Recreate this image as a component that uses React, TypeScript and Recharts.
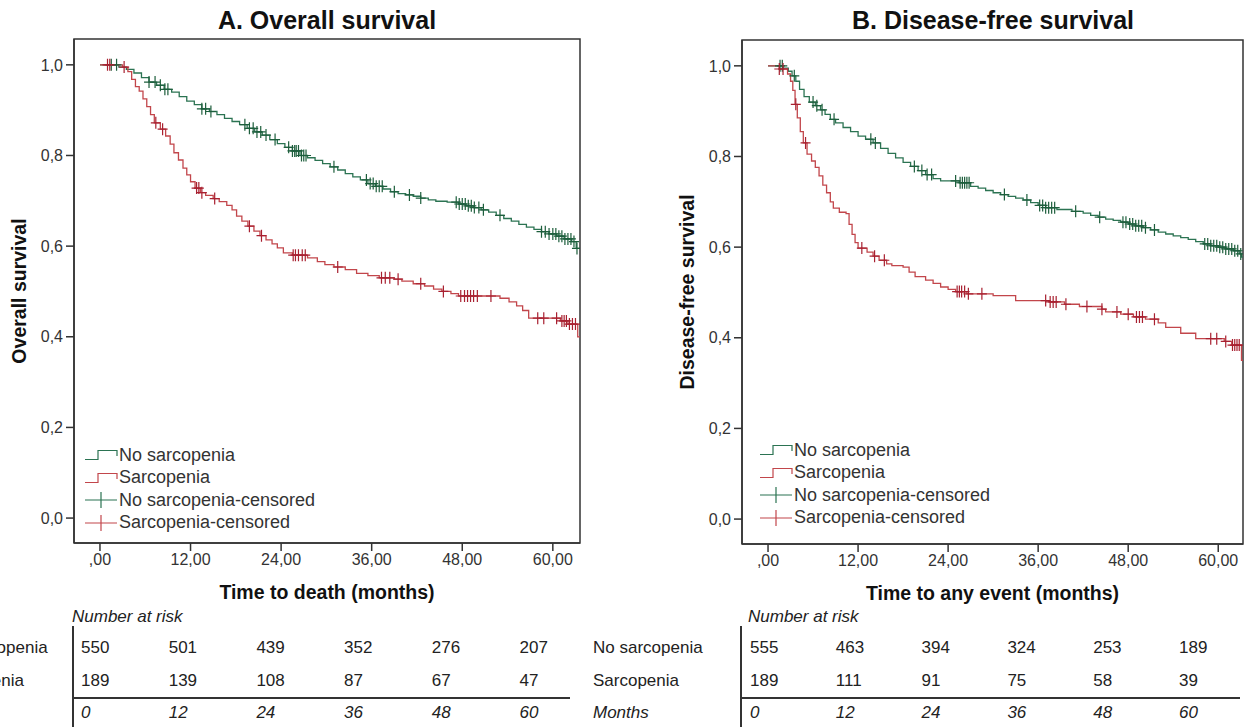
import {
  ComposedChart,
  Legend,
  Line,
  ReferenceArea,
  Scatter,
  XAxis,
  YAxis,
} from "recharts";

type Pt = [number, number];

const monthTicks = [0, 12, 24, 36, 48, 60];
const survivalTicks = [0, 0.2, 0.4, 0.6, 0.8, 1];
const groupLabels = ["No sarcopenia", "Sarcopenia"];

// A. Overall survival, KM steps as [month, survival]
const osNoSarcopenia: Pt[] = [
  [0, 1], [2.5, 0.995], [3.5, 0.99], [4.5, 0.982], [5.5, 0.972], [6.5, 0.962],
  [7.5, 0.955], [8.5, 0.946], [9.5, 0.94], [10.5, 0.93], [11.5, 0.92],
  [12.5, 0.912], [13.5, 0.903], [14.5, 0.897], [15.5, 0.89], [16.5, 0.882],
  [17.5, 0.875], [18.5, 0.868], [19.5, 0.86], [20.5, 0.852], [21.5, 0.845],
  [22.5, 0.835], [23.5, 0.826], [24.5, 0.818], [25.5, 0.81], [26.5, 0.8],
  [27.5, 0.795], [28.5, 0.789], [29.5, 0.782], [30.5, 0.775], [31.5, 0.768],
  [32.5, 0.76], [33.5, 0.753], [34.5, 0.746], [35.5, 0.738], [36.5, 0.732],
  [37.5, 0.726], [38.5, 0.72], [39.5, 0.716], [40.5, 0.713], [41.5, 0.71],
  [42.5, 0.706], [43.5, 0.702], [44.5, 0.699], [46, 0.697], [47.5, 0.693],
  [48.5, 0.689], [49.5, 0.685], [50.5, 0.68], [51.5, 0.675], [52.5, 0.668],
  [53.5, 0.661], [54.5, 0.655], [55.5, 0.648], [56.5, 0.642], [57.5, 0.637],
  [58.5, 0.632], [59.5, 0.627], [60.5, 0.622], [61.5, 0.616], [62.5, 0.61],
  [63.1, 0.595], [63.6, 0.595],
];
const osSarcopenia: Pt[] = [
  [0, 1], [3, 0.995], [3.7, 0.985], [4.2, 0.968], [4.7, 0.952], [5.2, 0.942],
  [5.7, 0.925], [6.2, 0.908], [6.7, 0.89], [7.2, 0.872], [8, 0.858],
  [8.7, 0.843], [9.3, 0.825], [9.8, 0.806], [10.4, 0.79], [11, 0.772],
  [11.5, 0.757], [12, 0.742], [12.6, 0.728], [13.3, 0.718], [14, 0.712],
  [15, 0.705], [15.8, 0.698], [16.8, 0.69], [17.5, 0.68], [18.1, 0.666],
  [18.8, 0.655], [19.6, 0.644], [20.4, 0.633], [21.2, 0.623], [22, 0.614],
  [22.8, 0.605], [23.5, 0.596], [24.3, 0.585], [25.5, 0.58], [27.5, 0.574],
  [28.8, 0.566], [29.8, 0.559], [31, 0.554], [32.5, 0.548], [34, 0.54],
  [35.5, 0.535], [37, 0.53], [39, 0.527], [40, 0.523], [41.5, 0.517],
  [43, 0.512], [44.2, 0.505], [45.3, 0.5], [46.5, 0.495], [47.5, 0.49],
  [53, 0.485], [54.2, 0.477], [55.2, 0.468], [56, 0.458], [56.8, 0.441],
  [61, 0.435], [62, 0.428], [63.3, 0.4], [63.6, 0.4],
];
const osNoSarcopeniaCensored: Pt[] = [
  [1.5, 1], [2.2, 1], [6.5, 0.962], [7.3, 0.962], [8, 0.955], [8.6, 0.946],
  [9, 0.946], [13.5, 0.903], [14, 0.903], [14.7, 0.897], [19.2, 0.868],
  [19.8, 0.86], [20.3, 0.86], [20.8, 0.852], [21.3, 0.852], [22, 0.845],
  [23.2, 0.835], [25, 0.818], [25.5, 0.81], [25.8, 0.81], [26, 0.81],
  [26.3, 0.81], [26.7, 0.8], [27, 0.8], [27.3, 0.8], [31, 0.775],
  [35.3, 0.746], [35.8, 0.738], [36.2, 0.738], [36.6, 0.732], [37, 0.732],
  [37.4, 0.732], [39, 0.72], [41, 0.713], [42.5, 0.706], [47.2, 0.697],
  [47.6, 0.693], [48, 0.693], [48.4, 0.693], [48.8, 0.689], [49.2, 0.689],
  [49.6, 0.685], [50.2, 0.685], [50.8, 0.68], [53, 0.668], [58.5, 0.632],
  [59, 0.632], [59.5, 0.627], [60, 0.627], [60.4, 0.627], [60.8, 0.622],
  [61.2, 0.622], [61.6, 0.616], [62, 0.616], [62.4, 0.616], [62.8, 0.61],
  [63.2, 0.595],
];
const osSarcopeniaCensored: Pt[] = [
  [1, 1], [1.3, 1], [3.2, 0.995], [7.4, 0.872], [8.3, 0.858], [12.8, 0.728],
  [13.1, 0.728], [13.5, 0.718], [15.2, 0.705], [19.8, 0.644], [21.4, 0.623],
  [25.6, 0.58], [25.9, 0.58], [26.3, 0.58], [26.8, 0.58], [27.2, 0.58],
  [31.5, 0.554], [37.3, 0.53], [37.8, 0.53], [38.4, 0.53], [39.5, 0.527],
  [42.5, 0.517], [45.5, 0.5], [47.8, 0.49], [48.3, 0.49], [48.7, 0.49],
  [49.1, 0.49], [49.5, 0.49], [50, 0.49], [51.8, 0.49], [58, 0.441],
  [58.8, 0.441], [60.5, 0.441], [61.2, 0.435], [61.5, 0.435], [61.8, 0.435],
  [62.2, 0.428], [62.6, 0.428], [63, 0.428],
];

// B. Disease-free survival
const dfsNoSarcopenia: Pt[] = [
  [0, 1], [2, 0.995], [2.7, 0.988], [3.2, 0.978], [3.7, 0.966], [4.2, 0.948],
  [4.8, 0.932], [5.5, 0.92], [6.3, 0.912], [7, 0.903], [7.6, 0.893],
  [8.3, 0.882], [9, 0.874], [10, 0.864], [11, 0.855], [12, 0.845], [13, 0.838],
  [14, 0.83], [15, 0.818], [16, 0.807], [17, 0.797], [18, 0.787], [19, 0.778],
  [20, 0.769], [21, 0.76], [22, 0.751], [23, 0.746], [25.5, 0.742], [27, 0.734],
  [28, 0.73], [29, 0.725], [30, 0.72], [31, 0.716], [32, 0.712], [33, 0.708],
  [34, 0.704], [35, 0.698], [36, 0.692], [37, 0.687], [38.5, 0.683],
  [40.5, 0.679], [42, 0.675], [43, 0.67], [44, 0.666], [45, 0.662],
  [46, 0.659], [47, 0.655], [48, 0.651], [49, 0.647], [50, 0.643], [51, 0.638],
  [52, 0.633], [53, 0.629], [54, 0.625], [55, 0.621], [56, 0.617], [57, 0.612],
  [58, 0.607], [59, 0.603], [60, 0.6], [61, 0.596], [62, 0.592], [62.8, 0.585],
  [63.1, 0.578], [63.3, 0.578],
];
const dfsSarcopenia: Pt[] = [
  [0, 1], [1.5, 0.993], [2.6, 0.982], [3, 0.966], [3.3, 0.946], [3.6, 0.915],
  [3.9, 0.885], [4.3, 0.855], [4.7, 0.83], [5.2, 0.805], [5.8, 0.79],
  [6.3, 0.776], [6.8, 0.757], [7.3, 0.737], [7.8, 0.72], [8.3, 0.7],
  [8.7, 0.686], [9.5, 0.677], [10.4, 0.674], [10.8, 0.65], [11.2, 0.628],
  [11.6, 0.61], [12, 0.598], [13.2, 0.589], [14, 0.58], [14.8, 0.571],
  [15.8, 0.563], [16.5, 0.559], [18, 0.556], [18.8, 0.545], [19.6, 0.535],
  [21, 0.527], [22, 0.52], [23, 0.512], [24, 0.507], [25, 0.502],
  [26.5, 0.497], [30, 0.493], [33, 0.482], [37.5, 0.479], [39.5, 0.474],
  [41.5, 0.469], [44.5, 0.463], [45, 0.457], [47, 0.452], [48.7, 0.446],
  [50.3, 0.441], [52, 0.433], [53, 0.423], [55, 0.41], [57, 0.398],
  [60.8, 0.392], [61.8, 0.384], [63.1, 0.35], [63.3, 0.35],
];
const dfsNoSarcopeniaCensored: Pt[] = [
  [1.6, 1], [1.9, 1], [3.5, 0.978], [6, 0.92], [6.5, 0.912], [7.2, 0.903],
  [8.8, 0.882], [13.7, 0.838], [14.3, 0.83], [19.5, 0.778], [20.5, 0.769],
  [21.2, 0.76], [21.8, 0.76], [25, 0.746], [25.6, 0.742], [25.9, 0.742],
  [26.2, 0.742], [26.5, 0.742], [26.8, 0.742], [31.5, 0.716], [34.5, 0.704],
  [36.2, 0.692], [36.6, 0.692], [37, 0.687], [37.4, 0.687], [37.8, 0.687],
  [38.2, 0.687], [41, 0.679], [44.2, 0.666], [47.3, 0.655], [47.7, 0.655],
  [48.2, 0.651], [48.6, 0.651], [49, 0.647], [49.4, 0.647], [49.8, 0.647],
  [50.3, 0.643], [51.5, 0.638], [58.2, 0.607], [58.6, 0.607], [59, 0.603],
  [59.4, 0.603], [59.8, 0.603], [60.2, 0.6], [60.6, 0.6], [61, 0.596],
  [61.4, 0.596], [61.8, 0.596], [62.2, 0.592], [62.6, 0.592], [63, 0.585],
];
const dfsSarcopeniaCensored: Pt[] = [
  [1.5, 0.993], [2, 0.993], [3.7, 0.915], [5, 0.83], [12.5, 0.598],
  [14.2, 0.58], [15.5, 0.571], [25.2, 0.502], [25.5, 0.502], [25.8, 0.502],
  [26.2, 0.502], [26.7, 0.497], [28.5, 0.497], [37, 0.482], [37.6, 0.479],
  [38, 0.479], [38.4, 0.479], [39.7, 0.474], [42.5, 0.469], [44.5, 0.463],
  [46.5, 0.457], [48, 0.452], [49.1, 0.446], [49.5, 0.446], [49.9, 0.446],
  [51.5, 0.441], [59, 0.398], [59.8, 0.398], [61, 0.392], [61.9, 0.384],
  [62.2, 0.384], [62.5, 0.384], [62.8, 0.384],
];

// number at risk
const osRiskNo = [550, 501, 439, 352, 276, 207];
const osRiskSarc = [189, 139, 108, 87, 67, 47];
const dfsRiskNo = [555, 463, 394, 324, 253, 189];
const dfsRiskSarc = [189, 111, 91, 75, 58, 39];

const FONT = '"Liberation Sans", Arial, sans-serif';
const NARROW = '"Liberation Sans Narrow", "Arial Narrow", "Liberation Sans", sans-serif';
const GREEN = "#2b7352";
const GREEN_MARK = "#1d5e3c";
const RED = "#c2464b";
const RED_MARK = "#a82030";
const INK = "#333";
const Y_DOMAIN: [number, number] = [-0.055, 1.057];

const toRows = (pts: Pt[]) => pts.map(([t, s]) => ({ t, s }));

const fmtY = (v: number) => v.toFixed(1).replace(".", ",");
const fmtX = (v: number) => (v === 0 ? ",00" : v.toFixed(2).replace(".", ","));

function plusShape(color: string) {
  return (props: any) => {
    const { cx, cy } = props;
    if (cx == null || cy == null) return <g />;
    return (
      <path
        d={`M${cx - 5},${cy}H${cx + 5}M${cx},${cy - 6}V${cy + 6}`}
        stroke={color}
        strokeWidth={1.2}
        fill="none"
      />
    );
  };
}

const legendItems = [
  { label: "No sarcopenia", color: GREEN, censored: false },
  { label: "Sarcopenia", color: RED, censored: false },
  { label: "No sarcopenia-censored", color: GREEN, censored: true },
  { label: "Sarcopenia-censored", color: RED, censored: true },
];

function KmLegend() {
  return (
    <div style={{ fontFamily: FONT, fontSize: 18, color: INK }}>
      {legendItems.map((it) => (
        <div key={it.label} style={{ display: "flex", alignItems: "center", height: 22.5 }}>
          <svg width={34} height={20} style={{ flex: "none" }}>
            {it.censored ? (
              <path d="M0,10H32M16,2V18" stroke={it.color} strokeWidth={1.2} fill="none" />
            ) : (
              <path d="M0,14.5H13V5.5H32V11" stroke={it.color} strokeWidth={1.2} fill="none" />
            )}
          </svg>
          <span style={{ whiteSpace: "nowrap" }}>{it.label}</span>
        </div>
      ))}
    </div>
  );
}

type PanelProps = {
  left: number;
  width: number;
  height: number;
  top: number;
  right: number;
  xDomain: [number, number];
  yLabel: string;
  xLabel: string;
  noSteps: Pt[];
  sarcSteps: Pt[];
  noCens: Pt[];
  sarcCens: Pt[];
  legendLeft: number;
  legendTop: number;
};

function KmPanel(p: PanelProps) {
  const tickStyle = { fill: INK, fontSize: 16, fontFamily: NARROW };
  return (
    <div style={{ position: "absolute", left: p.left, top: 0 }}>
      <ComposedChart
        width={p.width}
        height={p.height}
        margin={{ top: p.top, right: p.right, bottom: 0, left: 0 }}
      >
        <ReferenceArea
          x1={p.xDomain[0]}
          x2={p.xDomain[1]}
          y1={Y_DOMAIN[0]}
          y2={Y_DOMAIN[1]}
          fill="none"
          stroke={INK}
          strokeWidth={1.5}
          ifOverflow="visible"
        />
        <XAxis
          type="number"
          dataKey="t"
          domain={p.xDomain}
          ticks={monthTicks}
          tickFormatter={fmtX}
          allowDataOverflow
          height={77}
          tickSize={8}
          tickMargin={3}
          tick={tickStyle}
          axisLine={{ stroke: INK, strokeWidth: 1.5 }}
          tickLine={{ stroke: INK, strokeWidth: 1.5 }}
          label={{
            value: p.xLabel,
            position: "insideBottom",
            offset: 21,
            style: { fill: "#111", fontSize: 19.5, fontWeight: 700, fontFamily: FONT },
          }}
        />
        <YAxis
          type="number"
          dataKey="s"
          domain={Y_DOMAIN}
          ticks={survivalTicks}
          tickFormatter={fmtY}
          allowDataOverflow
          width={74}
          tickSize={8}
          tickMargin={3}
          tick={tickStyle}
          axisLine={{ stroke: INK, strokeWidth: 1.5 }}
          tickLine={{ stroke: INK, strokeWidth: 1.5 }}
          label={{
            value: p.yLabel,
            angle: -90,
            position: "insideLeft",
            offset: 19,
            textAnchor: "middle",
            style: { fill: "#111", fontSize: 19.5, fontWeight: 700, fontFamily: FONT, textAnchor: "middle" },
          }}
        />
        <Line
          data={toRows(p.noSteps)}
          dataKey="s"
          type="stepAfter"
          stroke={GREEN}
          strokeWidth={1.3}
          dot={false}
          activeDot={false}
          isAnimationActive={false}
          name={groupLabels[0]}
        />
        <Line
          data={toRows(p.sarcSteps)}
          dataKey="s"
          type="stepAfter"
          stroke={RED}
          strokeWidth={1.3}
          dot={false}
          activeDot={false}
          isAnimationActive={false}
          name={groupLabels[1]}
        />
        <Scatter
          data={toRows(p.noCens)}
          dataKey="s"
          shape={plusShape(GREEN_MARK)}
          isAnimationActive={false}
        />
        <Scatter
          data={toRows(p.sarcCens)}
          dataKey="s"
          shape={plusShape(RED_MARK)}
          isAnimationActive={false}
        />
        <Legend
          layout="vertical"
          align="center"
          verticalAlign="middle"
          content={() => <KmLegend />}
          wrapperStyle={{ left: p.legendLeft, top: p.legendTop, width: "auto" }}
        />
      </ComposedChart>
    </div>
  );
}

type TableProps = {
  labelX: number;
  lineX: number;
  lineEnd: number;
  headX: number;
  colX: number;
  colStep: number;
  noVals: number[];
  sarcVals: number[];
};

function RiskTable(t: TableProps) {
  const rowY = [648, 681, 713];
  const txt = (x: number, y: number, s: string | number, italic = false) => (
    <div
      key={`${x}-${y}`}
      style={{
        position: "absolute",
        left: x,
        top: y - 11,
        height: 22,
        lineHeight: "22px",
        fontFamily: FONT,
        fontSize: 17,
        fontStyle: italic ? "italic" : "normal",
        color: "#222",
        whiteSpace: "nowrap",
      }}
    >
      {s}
    </div>
  );
  return (
    <>
      {txt(t.headX, 617, "Number at risk", true)}
      <div style={{ position: "absolute", left: t.lineX, top: 626, width: 1.5, height: 101, background: INK }} />
      <div style={{ position: "absolute", left: t.lineX, top: 697, width: t.lineEnd - t.lineX, height: 1.5, background: INK }} />
      {txt(t.labelX, rowY[0], groupLabels[0])}
      {txt(t.labelX, rowY[1], groupLabels[1])}
      {txt(t.labelX, rowY[2], "Months", true)}
      {t.noVals.map((v, i) => txt(t.colX + i * t.colStep, rowY[0], v))}
      {t.sarcVals.map((v, i) => txt(t.colX + i * t.colStep, rowY[1], v))}
      {monthTicks.map((m, i) => txt(t.colX + i * t.colStep, rowY[2], m, true))}
    </>
  );
}

const titleStyle = (center: number): React.CSSProperties => ({
  position: "absolute",
  left: center - 200,
  width: 400,
  top: 6,
  textAlign: "center",
  fontFamily: FONT,
  fontSize: 25,
  fontWeight: 700,
  color: "#111",
});

export default function App() {
  return (
    <div
      style={{
        position: "absolute",
        left: 0,
        top: 0,
        width: 1247,
        height: 727,
        background: "#fff",
        overflow: "hidden",
      }}
    >
      <div style={titleStyle(327)}>A. Overall survival</div>
      <div style={titleStyle(993)}>B. Disease-free survival</div>
      <KmPanel
        left={0}
        width={600}
        height={620}
        top={39}
        right={20}
        xDomain={[-3.44, 63.6]}
        yLabel="Overall survival"
        xLabel="Time to death (months)"
        noSteps={osNoSarcopenia}
        sarcSteps={osSarcopenia}
        noCens={osNoSarcopeniaCensored}
        sarcCens={osSarcopeniaCensored}
        legendLeft={85}
        legendTop={444}
      />
      <KmPanel
        left={668}
        width={579}
        height={621}
        top={40}
        right={4}
        xDomain={[-3.47, 63.3]}
        yLabel="Disease-free survival"
        xLabel="Time to any event (months)"
        noSteps={dfsNoSarcopenia}
        sarcSteps={dfsSarcopenia}
        noCens={dfsNoSarcopeniaCensored}
        sarcCens={dfsSarcopeniaCensored}
        legendLeft={92}
        legendTop={439}
      />
      <RiskTable
        labelX={-62}
        lineX={72}
        lineEnd={570}
        headX={72}
        colX={81}
        colStep={87.7}
        noVals={osRiskNo}
        sarcVals={osRiskSarc}
      />
      <RiskTable
        labelX={593}
        lineX={740}
        lineEnd={1240}
        headX={748}
        colX={750}
        colStep={85.8}
        noVals={dfsRiskNo}
        sarcVals={dfsRiskSarc}
      />
    </div>
  );
}
